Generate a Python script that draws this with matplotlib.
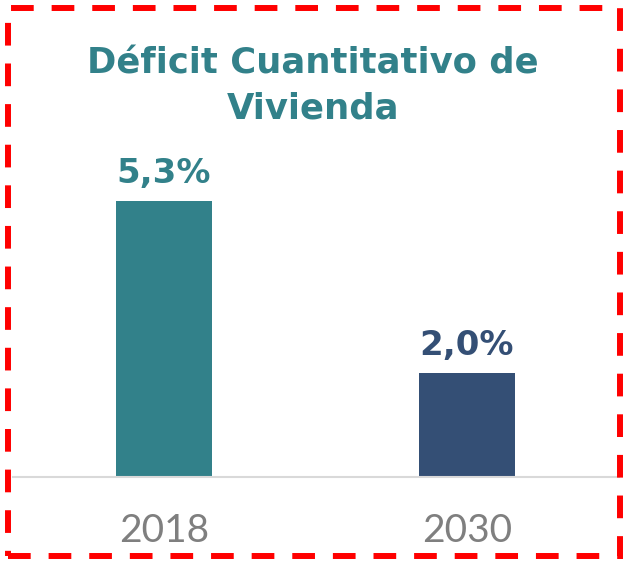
import matplotlib.pyplot as plt
from matplotlib.patches import Rectangle

years = ["2018", "2030"]
deficit = [5.3, 2.0]
labels = ["5,3%", "2,0%"]
colors = ["#32818a", "#344f75"]

fig = plt.figure(figsize=(6.26, 5.61), dpi=100)
ax = fig.add_axes([12.5/626, 84/561, 606/626, 469/561])
x = range(len(years))
ax.bar(x, deficit, width=0.317, color=colors, zorder=2)
ax.set_xlim(-0.5, 1.5)
ax.set_ylim(0, 9.02)
for i, v in enumerate(deficit):
    ax.text(i, v + 0.22, labels[i], ha="center", va="bottom", color=colors[i],
            fontsize=24.5, fontweight="bold", family="DejaVu Sans")
ax.set_xticks(list(x))
ax.set_xticklabels(years, fontsize=28, color="#7f7f7f", family="Lato")
ax.tick_params(axis="x", length=0, pad=26)
ax.set_yticks([])
for s in ["top", "right", "left"]:
    ax.spines[s].set_visible(False)
ax.spines["bottom"].set_color("#d9d9d9")
ax.spines["bottom"].set_linewidth(1.5)

fig.text(0.5, 1 - 86/561, "Déficit Cuantitativo de\nVivienda", ha="center", va="center",
         color="#32818a", fontsize=25.5, fontweight="bold", family="DejaVu Sans",
         linespacing=1.42)

# dashed red frame
frame = Rectangle((8/626, 5/561), 612/626, 548/561, transform=fig.transFigure,
                  fill=False, edgecolor="#ff0000", linewidth=4.3, linestyle=(0, (3.8, 3.0)))
fig.patches.append(frame)

fig.savefig("out.png", dpi=100)
